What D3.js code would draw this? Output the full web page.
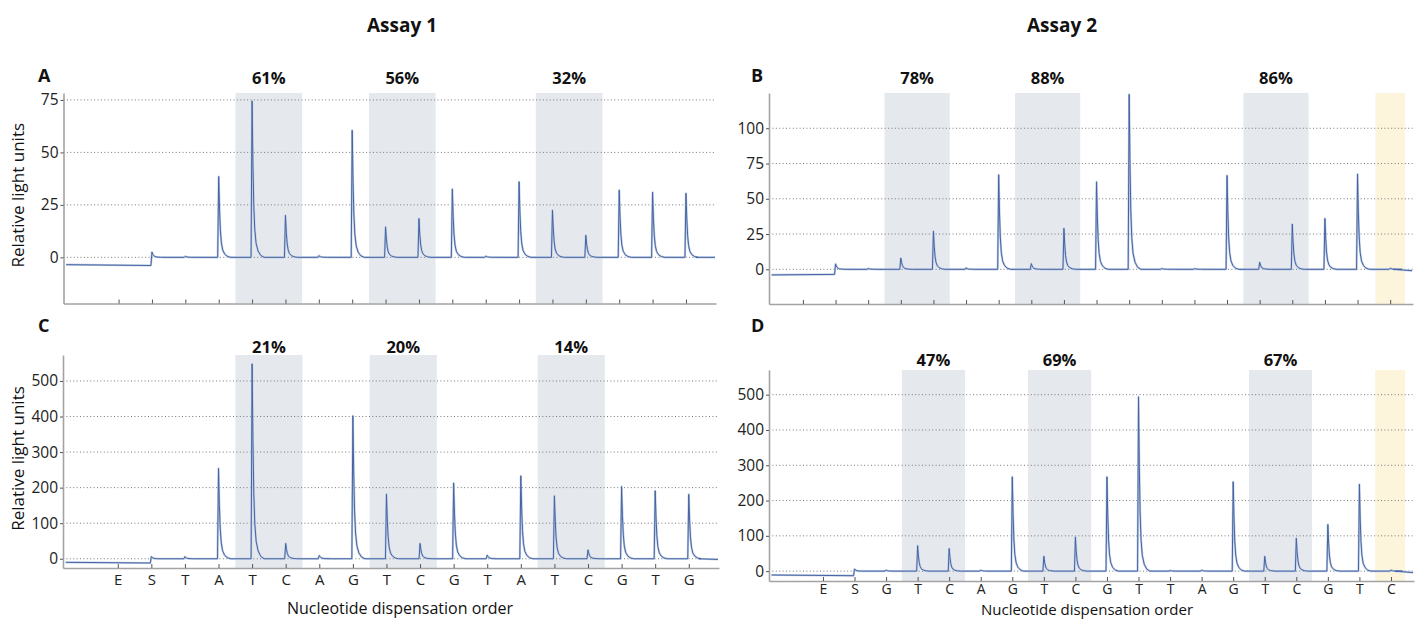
<!DOCTYPE html>
<html>
<head>
<meta charset="utf-8">
<script src="https://cdn.jsdelivr.net/npm/d3@7"></script>
<style>
body { margin: 0; background: #fff; }
svg { font-family: "Open Sans", sans-serif; }
</style>
</head>
<body>
<script>
// dispensation order (x tick labels)
var order1 = ['E', 'S', 'T', 'A', 'T', 'C', 'A', 'G', 'T', 'C', 'G', 'T', 'A', 'T', 'C', 'G', 'T', 'G'];
var order2 = ['E', 'S', 'G', 'T', 'C', 'A', 'G', 'T', 'C', 'G', 'T', 'T', 'A', 'G', 'T', 'C', 'G', 'T', 'C'];

// peak heights per dispensation (RLU)
var heightsA = [0, 2.5, 0.5, 38.5, 74.5, 20, 0.8, 60.5, 14.5, 18.5, 32.5, 0.6, 36, 22.5, 10.5, 32, 31, 30.5];
var heightsB = [0, 3.8, 0.6, 8, 27, 1, 67, 4, 29, 62, 124, 0.6, 0.5, 66.5, 5, 32, 36, 67.5, 0.8];
var heightsC = [0, 6, 6, 254, 548, 43, 9, 402, 182, 43, 213, 10, 233, 177, 25, 203, 191, 181];
var heightsD = [0, 6, 3, 72, 64, 3, 267, 42, 97, 267, 494, 2, 3, 253, 42, 93, 132, 246, 3];

// baseline before the substrate step (start, just before S) and at the end
var preA = [-3.5, -3.9], tailA = 0;
var preB = [-4, -3.6], tailB = -1;
var preC = [-10, -12], tailC = -2;
var preD = [-11, -13], tailD = -4;

// y tick values
var yTicksA = [0, 25, 50, 75];
var yTicksB = [0, 25, 50, 75, 100];
var yTicksC = [0, 100, 200, 300, 400, 500];
var yTicksD = [0, 100, 200, 300, 400, 500];

// highlighted CpG positions (dispensation index ranges) and methylation %
var bands1 = [[4.5, 6.5], [8.5, 10.5], [13.5, 15.5]];
var bands2 = [[3.5, 5.5], [7.5, 9.5], [14.5, 16.5]];
var yellow2 = [18.55, 19.45];
var pctA = ['61%', '56%', '32%'];
var pctB = ['78%', '88%', '86%'];
var pctC = ['21%', '20%', '14%'];
var pctD = ['47%', '69%', '67%'];

var width = 1416;
var height = 619;

var svg = d3.select('body').append('svg')
    .attr('width', width)
    .attr('height', height);

// shape of one pyrosequencing peak: [offset in dispensations, fraction of height]
var peakShape = [[-0.03, 0], [0, 1], [0.025, 0.6], [0.05, 0.34], [0.08, 0.18], [0.12, 0.09], [0.18, 0.04], [0.26, 0.012], [0.36, 0]];

var panels = [
    { name: 'A', order: order1, heights: heightsA, pre: preA, tail: tailA, yTicks: yTicksA, bands: bands1, yellow: null, pct: pctA,
      left: 63.5, right: 716, top: 93, bottom: 303.5, xDom: [-0.65, 18.9], yDom: [-22, 78.3], pctY: 84, letterX: 38, letterY: 82, labels: false, yTitle: true },
    { name: 'B', order: order2, heights: heightsB, pre: preB, tail: tailB, yTicks: yTicksB, bands: bands2, yellow: yellow2, pct: pctB,
      left: 769, right: 1413, top: 93, bottom: 304, xDom: [-0.04, 19.7], yDom: [-24.6, 125], pctY: 84, letterX: 751, letterY: 82, labels: false, yTitle: false },
    { name: 'C', order: order1, heights: heightsC, pre: preC, tail: tailC, yTicks: yTicksC, bands: bands1, yellow: null, pct: pctC,
      left: 63, right: 719, top: 355, bottom: 568, xDom: [-0.63, 18.9], yDom: [-26, 573], pctY: 353, letterX: 38, letterY: 332, labels: true, yTitle: true,
      tickPad: 6, tickFont: 15, titleX: 400, titleY: 614, titleFont: 16 },
    { name: 'D', order: order2, heights: heightsD, pre: preD, tail: tailD, yTicks: yTicksD, bands: bands2, yellow: [18.5, 19.45], pct: pctD,
      left: 769, right: 1414, top: 370, bottom: 581, xDom: [-0.71, 19.73], yDom: [-28, 570], pctY: 366, letterX: 751, letterY: 332, labels: true, yTitle: false,
      tickPad: 3, tickFont: 14, titleX: 1087, titleY: 614.5, titleFont: 15 }
];

panels.forEach(function (p) {
    var x = d3.scaleLinear().domain(p.xDom).range([p.left, p.right]);
    var y = d3.scaleLinear().domain(p.yDom).range([p.bottom, p.top]);
    var g = svg.append('g');

    // shaded CpG bands
    g.selectAll('rect.band')
        .data(p.bands)
        .join('rect')
        .attr('x', function (d) { return x(d[0]); })
        .attr('width', function (d) { return x(d[1]) - x(d[0]); })
        .attr('y', p.top)
        .attr('height', p.bottom - p.top)
        .style('fill', '#e5e9ee');

    if (p.yellow) {
        g.append('rect')
            .attr('x', x(p.yellow[0]))
            .attr('width', x(p.yellow[1]) - x(p.yellow[0]))
            .attr('y', p.top)
            .attr('height', p.bottom - p.top)
            .style('fill', '#fcf5dc');
    }

    // dotted gridlines
    g.selectAll('line.grid')
        .data(p.yTicks)
        .join('line')
        .attr('x1', p.left)
        .attr('x2', p.right)
        .attr('y1', function (d) { return y(d); })
        .attr('y2', function (d) { return y(d); })
        .style('stroke', '#777')
        .style('stroke-width', 1)
        .style('stroke-dasharray', '1,2.4');

    // trace
    var pts = [[p.xDom[0] + 0.08, p.pre[0]]];
    p.heights.forEach(function (h, i) {
        var pos = i + 1;
        if (pos < 2) return;
        peakShape.forEach(function (s, k) {
            if (pos === 2 && k === 0) {
                pts.push([pos + s[0], p.pre[1]]);
            } else {
                pts.push([pos + s[0], s[1] * h]);
            }
        });
    });
    pts.push([p.xDom[1] - 0.6, 0]);
    pts.push([p.xDom[1] - 0.03, p.tail]);

    var line = d3.line()
        .x(function (d) { return x(d[0]); })
        .y(function (d) { return y(d[1]); });

    g.append('path')
        .attr('d', line(pts))
        .style('fill', 'none')
        .style('stroke', '#c2cee5')
        .style('stroke-width', 2.2)
        .style('stroke-linejoin', 'round');
    g.append('path')
        .attr('d', line(pts))
        .style('fill', 'none')
        .style('stroke', '#4464a2')
        .style('stroke-width', 1)
        .style('stroke-linejoin', 'round');

    // axes
    var yaxis = d3.axisLeft(y).tickValues(p.yTicks).tickSize(3).tickSizeOuter(0).tickPadding(2);
    var ya = g.append('g')
        .attr('transform', 'translate(' + p.left + ',0)')
        .call(yaxis);
    var xaxis = d3.axisBottom(x)
        .tickValues(d3.range(1, p.order.length + 1))
        .tickSize(-4).tickSizeOuter(0).tickPadding(p.tickPad || 6)
        .tickFormat(function (d) { return p.labels ? p.order[d - 1] : ''; });
    var xa = g.append('g')
        .attr('transform', 'translate(0,' + p.bottom + ')')
        .call(xaxis);

    [ya, xa].forEach(function (a) {
        a.select('.domain').style('stroke', '#a3a3a3').style('stroke-width', 1.6);
        a.selectAll('.tick line').style('stroke', '#555');
        a.selectAll('.tick text').style('font-family', '"Open Sans", sans-serif').style('fill', '#222');
    });
    ya.selectAll('.tick text').style('font-size', '15.5px');
    xa.selectAll('.tick text').style('font-size', (p.tickFont || 15) + 'px');

    // percentages above bands
    g.selectAll('text.pct')
        .data(p.pct)
        .join('text')
        .attr('x', function (d, i) { return (x(p.bands[i][0]) + x(p.bands[i][1])) / 2; })
        .attr('y', p.pctY)
        .attr('text-anchor', 'middle')
        .style('font-size', '16.5px')
        .style('font-weight', 'bold')
        .style('fill', '#111')
        .text(function (d) { return d; });

    // panel letter
    g.append('text')
        .attr('x', p.letterX)
        .attr('y', p.letterY)
        .style('font-size', '18px')
        .style('font-weight', 'bold')
        .style('fill', '#111')
        .text(p.name);

    if (p.yTitle) {
        g.append('text')
            .attr('transform', 'translate(24,' + ((p.top + p.bottom) / 2 - 3) + ') rotate(-90)')
            .attr('text-anchor', 'middle')
            .style('font-size', '17px')
            .style('fill', '#111')
            .text('Relative light units');
    }
    if (p.labels) {
        g.append('text')
            .attr('x', p.titleX)
            .attr('y', p.titleY)
            .attr('text-anchor', 'middle')
            .style('font-size', p.titleFont + 'px')
            .style('fill', '#111')
            .text('Nucleotide dispensation order');
    }
});

// assay titles
svg.append('text')
    .attr('x', 402).attr('y', 32)
    .attr('text-anchor', 'middle')
    .style('font-size', '19px').style('font-weight', 'bold').style('fill', '#111')
    .text('Assay 1');
svg.append('text')
    .attr('x', 1062).attr('y', 32)
    .attr('text-anchor', 'middle')
    .style('font-size', '19px').style('font-weight', 'bold').style('fill', '#111')
    .text('Assay 2');
</script>
</body>
</html>
